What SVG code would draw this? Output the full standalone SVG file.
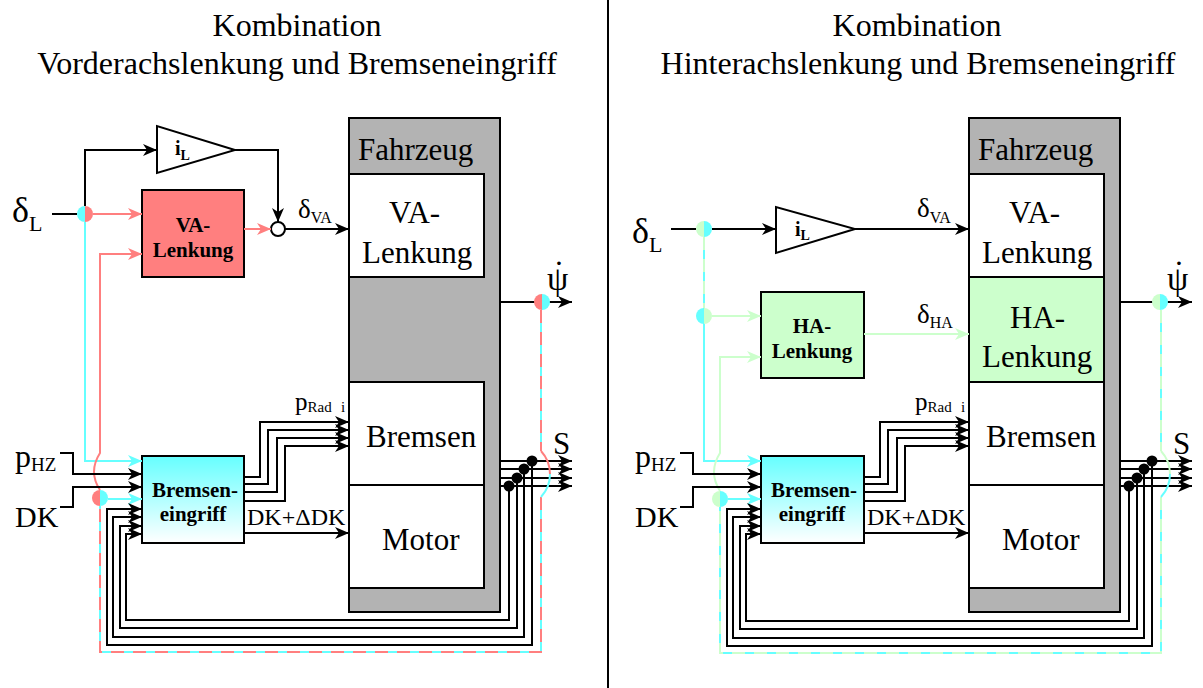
<svg xmlns="http://www.w3.org/2000/svg" width="1203" height="688" viewBox="0 0 1203 688">
<defs>
<style>
.k{fill:none;stroke:#000;stroke-width:2}
.r{fill:none;stroke:#ff7f7f;stroke-width:2}
.c{fill:none;stroke:#66ffff;stroke-width:2}
.g{fill:none;stroke:#ccffcc;stroke-width:2}
.dr{fill:none;stroke:#ff7f7f;stroke-width:2;stroke-dasharray:13 9}
.dg{fill:none;stroke:#ccffcc;stroke-width:2;stroke-dasharray:13 9}
.bx{stroke:#000;stroke-width:2}
.t{font-family:"Liberation Serif","Times New Roman",serif;fill:#000}
.b{font-weight:bold;font-size:21px}
.ka{marker-end:url(#ak)}
.ra{marker-end:url(#ar)}
.ca{marker-end:url(#ac)}
.ga{marker-end:url(#ag)}
</style>
<linearGradient id="grad" x1="0" y1="0" x2="0" y2="1"><stop offset="0" stop-color="#66ffff"/><stop offset="1" stop-color="#ffffff"/></linearGradient>
<marker id="ak" markerUnits="userSpaceOnUse" viewBox="0 0 15 12" markerWidth="15" markerHeight="12" refX="14" refY="6" orient="auto"><path d="M0,0 L14,6 L0,12 L4,6 Z" fill="#000"/></marker>
<marker id="ar" markerUnits="userSpaceOnUse" viewBox="0 0 15 12" markerWidth="15" markerHeight="12" refX="14" refY="6" orient="auto"><path d="M0,0 L14,6 L0,12 L4,6 Z" fill="#ff7f7f"/></marker>
<marker id="ac" markerUnits="userSpaceOnUse" viewBox="0 0 15 12" markerWidth="15" markerHeight="12" refX="14" refY="6" orient="auto"><path d="M0,0 L14,6 L0,12 L4,6 Z" fill="#66ffff"/></marker>
<marker id="ag" markerUnits="userSpaceOnUse" viewBox="0 0 15 12" markerWidth="15" markerHeight="12" refX="14" refY="6" orient="auto"><path d="M0,0 L14,6 L0,12 L4,6 Z" fill="#ccffcc"/></marker>
</defs>
<rect width="1203" height="688" fill="#fff"/>
<line x1="608" y1="0" x2="608" y2="688" stroke="#000" stroke-width="2"/>

<g id="titles" class="t" font-size="32" text-anchor="middle">
<text x="297" y="36">Kombination</text>
<text x="297" y="74">Vorderachslenkung und Bremseneingriff</text>
<text x="917" y="36">Kombination</text>
<text x="918" y="74">Hinterachslenkung und Bremseneingriff</text>
</g>

<!-- LEFT DIAGRAM -->
<g id="L-fahrzeug">
<rect class="bx" x="349" y="118" width="151" height="494" fill="#b3b3b3"/>
<text class="t" x="358" y="160" font-size="31">Fahrzeug</text>
</g>
<g id="L-va-lenkung-fzg">
<rect class="bx" x="349" y="174" width="135" height="103" fill="#fff"/>
<text class="t" x="389" y="223" font-size="31">VA-</text>
<text class="t" x="362" y="263" font-size="31">Lenkung</text>
</g>
<g id="L-bremsen">
<rect class="bx" x="349" y="382" width="135" height="103" fill="#fff"/>
<text class="t" x="366" y="447" font-size="31">Bremsen</text>
</g>
<g id="L-motor">
<rect class="bx" x="349" y="485" width="135" height="103" fill="#fff"/>
<text class="t" x="382" y="550" font-size="31">Motor</text>
</g>
<g id="L-va-regler">
<rect class="bx" x="142" y="190" width="102" height="87" fill="#ff7f7f"/>
<text class="t b" x="193" y="232" text-anchor="middle">VA-</text>
<text class="t b" x="193" y="257" text-anchor="middle">Lenkung</text>
</g>
<g id="L-bremseneingriff">
<rect class="bx" x="142" y="456" width="102" height="87" fill="url(#grad)"/>
<text class="t b" x="195" y="497" text-anchor="middle">Bremsen-</text>
<text class="t b" x="193" y="521" text-anchor="middle">eingriff</text>
</g>
<g id="L-gain">
<polygon points="157,126 157,173 235,150" fill="#fff" stroke="#000" stroke-width="2"/>
<text class="t" x="175" y="155" font-size="20" font-weight="bold">i<tspan font-size="14" y="160">L</tspan></text>
</g>
<g id="L-sum">
<circle cx="278" cy="229" r="7" fill="#fff" stroke="#000" stroke-width="2"/>
</g>

<g id="L-connectors">
<path class="k" d="M52,214 H77"/>
<path class="k ka" d="M85,206 V150 H157"/>
<path class="k ka" d="M235,150 H278 V222"/>
<path class="k ka" d="M285,229 H349"/>
<path class="r ra" d="M93,214 H142"/>
<path class="r ra" d="M244,229 H271"/>
<path class="c ca" d="M85,222 V461 H142"/>
<path class="r ra" d="M100,490 Q88,472 100,453 V254 H142"/>
<path class="c ca" d="M108,499 H142"/>
<path class="k ka" d="M60,453 H73 V474 H142"/>
<path class="k ka" d="M60,507 H73 V487 H142"/>
<path class="k ka" d="M244,477 H260 V422 H349"/>
<path class="k ka" d="M244,484 H268 V430 H349"/>
<path class="k ka" d="M244,492 H277 V438 H349"/>
<path class="k ka" d="M244,501 H285 V446 H349"/>
<path class="k ka" d="M244,533 H349"/>
<path class="k ka" d="M500,302 H572"/>
<path class="k ka" d="M500,461 H572"/>
<path class="k ka" d="M500,469 H572"/>
<path class="k ka" d="M500,478 H572"/>
<path class="k ka" d="M500,486 H572"/>
<path class="k ka" d="M532,461 V645 H107 V509 H142"/>
<path class="k ka" d="M524,469 V637 H113 V517 H142"/>
<path class="k ka" d="M517,478 V628 H120 V526 H142"/>
<path class="k ka" d="M509,486 V620 H126 V534 H142"/>
<circle cx="532" cy="461" r="5.5"/>
<circle cx="524" cy="469" r="5.5"/>
<circle cx="517" cy="478" r="5.5"/>
<circle cx="509" cy="486" r="5.5"/>
<path class="c" d="M541,310 V451 M541,497 V652 H100 V506"/>
<path class="dr" d="M541,310 V451 M541,497 V652 H100 V506"/>
<path class="r" d="M541,451 A34,34 0 0 1 550,474"/>
<path class="c" d="M550,474 A34,34 0 0 1 541,497"/>
<path d="M85,206 A8,8 0 0 0 85,222 Z" fill="#66ffff"/>
<path d="M85,206 A8,8 0 0 1 85,222 Z" fill="#ff7f7f"/>
<path d="M542,294 A8,8 0 0 0 542,310 Z" fill="#ff7f7f"/>
<path d="M542,294 A8,8 0 0 1 542,310 Z" fill="#66ffff"/>
<path d="M100,490 A8,8 0 0 0 100,506 Z" fill="#ff7f7f"/>
<path d="M100,490 A8,8 0 0 1 100,506 Z" fill="#66ffff"/>
</g>

<g id="L-labels" class="t">
<text x="12" y="222" font-size="36">δ<tspan font-size="22" y="231">L</tspan></text>
<text x="15" y="467" font-size="32">p<tspan font-size="19" y="471">HZ</tspan></text>
<text x="15" y="527" font-size="30">DK</text>
<text x="298" y="218" font-size="27">δ<tspan font-size="16" y="223">VA</tspan></text>
<text x="295" y="410" font-size="25">p<tspan font-size="15" y="412">Rad</tspan><tspan font-size="15" x="341" y="412">i</tspan></text>
<text x="247" y="525" font-size="24">DK+ΔDK</text>
<text x="547" y="290" font-size="34">ψ<tspan dx="-15" dy="-6">˙</tspan></text>
<text x="553" y="454" font-size="31">S</text>
</g>

<!-- RIGHT DIAGRAM -->
<g id="R-fahrzeug">
<rect class="bx" x="969" y="118" width="151" height="494" fill="#b3b3b3"/>
<text class="t" x="978" y="160" font-size="31">Fahrzeug</text>
</g>
<g id="R-va-lenkung-fzg">
<rect class="bx" x="969" y="174" width="135" height="103" fill="#fff"/>
<text class="t" x="1009" y="223" font-size="31">VA-</text>
<text class="t" x="982" y="263" font-size="31">Lenkung</text>
</g>
<g id="R-ha-lenkung-fzg">
<rect class="bx" x="969" y="277" width="135" height="105" fill="#ccffcc"/>
<text class="t" x="1010" y="328" font-size="31">HA-</text>
<text class="t" x="982" y="367" font-size="31">Lenkung</text>
</g>
<g id="R-bremsen">
<rect class="bx" x="969" y="382" width="135" height="103" fill="#fff"/>
<text class="t" x="986" y="447" font-size="31">Bremsen</text>
</g>
<g id="R-motor">
<rect class="bx" x="969" y="485" width="135" height="103" fill="#fff"/>
<text class="t" x="1002" y="550" font-size="31">Motor</text>
</g>
<g id="R-ha-regler">
<rect class="bx" x="761" y="292" width="103" height="86" fill="#ccffcc"/>
<text class="t b" x="812" y="333" text-anchor="middle">HA-</text>
<text class="t b" x="812" y="358" text-anchor="middle">Lenkung</text>
</g>
<g id="R-bremseneingriff">
<rect class="bx" x="761" y="456" width="103" height="87" fill="url(#grad)"/>
<text class="t b" x="814" y="497" text-anchor="middle">Bremsen-</text>
<text class="t b" x="812" y="521" text-anchor="middle">eingriff</text>
</g>
<g id="R-gain">
<polygon points="776,207 776,253 855,229" fill="#fff" stroke="#000" stroke-width="2"/>
<text class="t" x="795" y="236" font-size="20" font-weight="bold">i<tspan font-size="14" y="240">L</tspan></text>
</g>

<g id="R-connectors">
<path class="k" d="M671,229 H696"/>
<path class="k ka" d="M712,229 H776"/>
<path class="k ka" d="M855,229 H969"/>
<path class="c ca" d="M704,237 V461 H761"/>
<path class="dg" d="M704,237 V308"/>
<path class="g ga" d="M712,316 H761"/>
<path class="g ga" d="M864,334 H969"/>
<path class="g ga" d="M720,491 Q708,472 720,453 V357 H761"/>
<path class="c ca" d="M728,499 H761"/>
<path class="k ka" d="M680,453 H693 V474 H761"/>
<path class="k ka" d="M680,507 H693 V487 H761"/>
<path class="k ka" d="M864,477 H880 V422 H969"/>
<path class="k ka" d="M864,484 H888 V430 H969"/>
<path class="k ka" d="M864,492 H897 V438 H969"/>
<path class="k ka" d="M864,501 H905 V446 H969"/>
<path class="k ka" d="M864,533 H969"/>
<path class="k ka" d="M1120,302 H1192"/>
<path class="k ka" d="M1120,461 H1192"/>
<path class="k ka" d="M1120,469 H1192"/>
<path class="k ka" d="M1120,478 H1192"/>
<path class="k ka" d="M1120,486 H1192"/>
<path class="k ka" d="M1152,461 V646 H727 V509 H761"/>
<path class="k ka" d="M1144,469 V638 H733 V517 H761"/>
<path class="k ka" d="M1137,478 V629 H740 V526 H761"/>
<path class="k ka" d="M1129,486 V621 H746 V534 H761"/>
<circle cx="1152" cy="461" r="5.5"/>
<circle cx="1144" cy="469" r="5.5"/>
<circle cx="1137" cy="478" r="5.5"/>
<circle cx="1129" cy="486" r="5.5"/>
<path class="c" d="M1161,310 V451 M1161,497 V653 H720 V507"/>
<path class="dg" d="M1161,310 V451 M1161,497 V653 H720 V507"/>
<path class="g" d="M1161,451 A34,34 0 0 1 1170,474"/>
<path class="c" d="M1170,474 A34,34 0 0 1 1161,497"/>
<path d="M704,221 A8,8 0 0 0 704,237 Z" fill="#ccffcc"/>
<path d="M704,221 A8,8 0 0 1 704,237 Z" fill="#66ffff"/>
<path d="M704,308 A8,8 0 0 0 704,324 Z" fill="#66ffff"/>
<path d="M704,308 A8,8 0 0 1 704,324 Z" fill="#ccffcc"/>
<path d="M720,491 A8,8 0 0 0 720,507 Z" fill="#ccffcc"/>
<path d="M720,491 A8,8 0 0 1 720,507 Z" fill="#66ffff"/>
<path d="M1160,294 A8,8 0 0 0 1160,310 Z" fill="#ccffcc"/>
<path d="M1160,294 A8,8 0 0 1 1160,310 Z" fill="#66ffff"/>
</g>

<g id="R-labels" class="t">
<text x="632" y="243" font-size="36">δ<tspan font-size="22" y="252">L</tspan></text>
<text x="635" y="467" font-size="32">p<tspan font-size="19" y="471">HZ</tspan></text>
<text x="635" y="527" font-size="30">DK</text>
<text x="917" y="217" font-size="27">δ<tspan font-size="16" y="223">VA</tspan></text>
<text x="917" y="323" font-size="27">δ<tspan font-size="16" y="328">HA</tspan></text>
<text x="915" y="410" font-size="25">p<tspan font-size="15" y="412">Rad</tspan><tspan font-size="15" x="961" y="412">i</tspan></text>
<text x="867" y="525" font-size="24">DK+ΔDK</text>
<text x="1167" y="290" font-size="34">ψ<tspan dx="-15" dy="-6">˙</tspan></text>
<text x="1173" y="454" font-size="31">S</text>
</g>
</svg>
